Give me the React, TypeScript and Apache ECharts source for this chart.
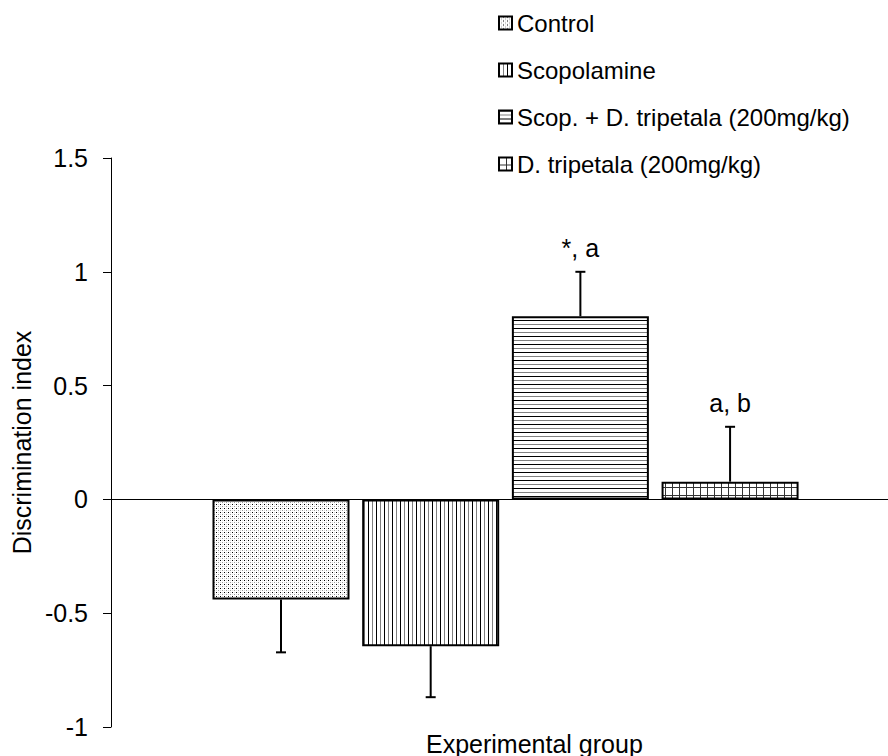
import React, { useEffect, useRef } from "react";
import * as echarts from "echarts";

// ---- data ----
const groups = [
  "Control",
  "Scopolamine",
  "Scop. + D. tripetala (200mg/kg)",
  "D. tripetala (200mg/kg)",
];
const groupPositions = [0, 1, 2, 3];
const means = [-0.44, -0.645, 0.805, 0.078];
const errors = [0.232, 0.224, 0.195, 0.241];
const annotations = ["", "", "*, a", "a, b"];
const yTicks = { min: -1, max: 1.5, interval: 0.5 };
const xAxisTitle = "Experimental group";
const yAxisTitle = "Discrimination index";

const FONT = '"Liberation Sans", Arial, Helvetica, sans-serif';

function makeTile(w: number, h: number, draw: (ctx: CanvasRenderingContext2D) => void) {
  const c = document.createElement("canvas");
  c.width = w;
  c.height = h;
  const ctx = c.getContext("2d")!;
  ctx.fillStyle = "#ffffff";
  ctx.fillRect(0, 0, w, h);
  draw(ctx);
  return c;
}

function makePatterns() {
  const dots = makeTile(4, 4, (ctx) => {
    ctx.fillStyle = "#000";
    ctx.fillRect(0, 0, 1, 1);
    ctx.fillStyle = "#9a9a9a";
    ctx.fillRect(2, 2, 1, 1);
    ctx.fillStyle = "#d8d8d8";
    ctx.fillRect(2, 0, 1, 1);
    ctx.fillRect(0, 2, 1, 1);
  });
  const vert = makeTile(8, 4, (ctx) => {
    ctx.fillStyle = "#000";
    ctx.fillRect(0, 0, 1, 4);
    ctx.fillStyle = "#808080";
    ctx.fillRect(4, 0, 1, 4);
  });
  const horiz = makeTile(4, 8, (ctx) => {
    ctx.fillStyle = "#000";
    ctx.fillRect(0, 0, 4, 1);
    ctx.fillStyle = "#808080";
    ctx.fillRect(0, 4, 4, 1);
  });
  const grid = makeTile(7, 8, (ctx) => {
    ctx.fillStyle = "#333";
    ctx.fillRect(0, 0, 1, 8);
    ctx.fillRect(0, 7, 7, 1);
  });
  return [dots, vert, horiz, grid].map((img) => ({ image: img, repeat: "repeat" }));
}

export default function App() {
  const ref = useRef<HTMLDivElement>(null);

  useEffect(() => {
    document.body.style.margin = "0";
    if (!ref.current) return;
    const chart = echarts.init(ref.current, null, { renderer: "svg" });
    const patterns = makePatterns();

    const barSeries = groups.map((name, i) => ({
      name,
      type: "bar",
      barWidth: 137,
      barGap: "-100%",
      data: [[groupPositions[i], means[i]]],
      itemStyle: {
        color: patterns[i] as any,
        borderColor: "#000",
        borderWidth: 2,
      },
      z: 2,
    }));

    const errData = groups.map((_, i) => [
      groupPositions[i],
      means[i],
      means[i] + Math.sign(means[i]) * errors[i],
    ]);

    const option: any = {
      animation: false,
      backgroundColor: "#ffffff",
      textStyle: { fontFamily: FONT },
      grid: { left: 111, right: 0, top: 158, bottom: 29, containLabel: false },
      legend: {
        data: groups,
        orient: "vertical",
        left: 498,
        top: 11,
        padding: 0,
        itemWidth: 13,
        itemHeight: 13,
        itemGap: 23,
        icon: "rect",
        selectedMode: false,
        textStyle: { fontSize: 24, color: "#000", fontFamily: FONT },
      },
      xAxis: {
        type: "value",
        min: -1.1356,
        max: 4.055,
        axisLine: { show: true, onZero: true, lineStyle: { color: "#000", width: 1 } },
        axisTick: { show: false },
        axisLabel: { show: false },
        splitLine: { show: false },
      },
      yAxis: {
        type: "value",
        min: yTicks.min,
        max: yTicks.max,
        interval: yTicks.interval,
        name: yAxisTitle,
        nameLocation: "middle",
        nameGap: 76,
        nameTextStyle: { fontSize: 25, color: "#000", fontFamily: FONT },
        axisLine: { show: true, onZero: false, lineStyle: { color: "#000", width: 1 } },
        axisTick: { show: true, inside: false, length: 8, lineStyle: { color: "#000" } },
        axisLabel: { fontSize: 25, color: "#000", margin: 23, fontFamily: FONT },
        splitLine: { show: false },
      },
      graphic: [
        {
          type: "text",
          left: 426,
          top: 731,
          style: { text: xAxisTitle, fontSize: 25, fill: "#000", fontFamily: FONT },
        },
      ],
      series: [
        ...barSeries,
        {
          type: "custom",
          name: "error",
          data: errData,
          encode: { x: 0, y: 1 },
          z: 5,
          clip: false,
          renderItem: (params: any, api: any) => {
            const x = api.value(0);
            const v = api.value(1);
            const e = api.value(2);
            const p0 = api.coord([x, v]);
            const p1 = api.coord([x, e]);
            const children: any[] = [
              {
                type: "line",
                shape: { x1: p0[0], y1: p0[1], x2: p1[0], y2: p1[1] },
                style: { stroke: "#000", lineWidth: 2 },
              },
              {
                type: "line",
                shape: { x1: p1[0] - 5, y1: p1[1], x2: p1[0] + 5, y2: p1[1] },
                style: { stroke: "#000", lineWidth: 2 },
              },
            ];
            const lbl = annotations[params.dataIndex];
            if (lbl) {
              children.push({
                type: "text",
                x: p1[0],
                y: p1[1] - 11,
                style: {
                  text: lbl,
                  fill: "#000",
                  fontSize: 25,
                  fontFamily: FONT,
                  align: "center",
                  verticalAlign: "bottom",
                },
              });
            }
            return { type: "group", children };
          },
        },
      ],
    };

    chart.setOption(option);
    return () => chart.dispose();
  }, []);

  return <div ref={ref} style={{ width: 888, height: 756 }} />;
}
